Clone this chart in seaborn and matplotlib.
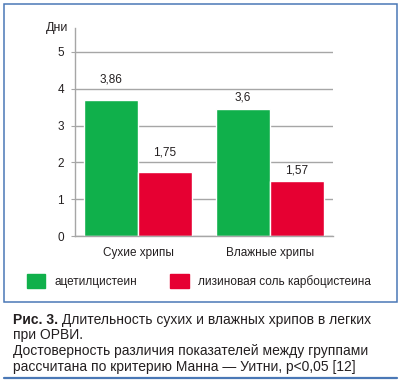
import matplotlib
matplotlib.use("Agg")
import matplotlib.pyplot as plt
import matplotlib.patches as mpatches
import matplotlib.lines as mlines
import pandas as pd
import seaborn as sns

# data
groups = ["Сухие хрипы", "Влажные хрипы"]
drugs = ["ацетилцистеин", "лизиновая соль карбоцистеина"]
heights_acc = [3.70, 3.45]      # bar heights as drawn
heights_lys = [1.74, 1.49]
labels_acc = ["3,86", "3,6"]    # printed values
labels_lys = ["1,75", "1,57"]
yticks = [0, 1, 2, 3, 4, 5]

GREEN = "#10b04b"
RED = "#e60032"
FRAME = "#4a78b6"
TXT = "#231f20"
GRID = "#a6a6a6"

sns.set_style("white")
plt.rcParams["font.family"] = ["Liberation Sans", "DejaVu Sans"]

df = pd.DataFrame({
    "group": groups * 2,
    "drug": [drugs[0]] * 2 + [drugs[1]] * 2,
    "days": heights_acc + heights_lys,
})

fig = plt.figure(figsize=(4.03, 3.81), dpi=100)
ax = fig.add_axes([75 / 403, 1 - 236 / 381, 258 / 403, 208 / 381])

sns.barplot(data=df, x="group", y="days", hue="drug", order=groups, hue_order=drugs,
            palette=[GREEN, RED], width=0.82, gap=0, saturation=1, ax=ax,
            legend=False, errorbar=None)

# value labels sit at uneven heights above the bars in the original
pads = [[10, 4], [10, 3]]
for cont, labs, pp in zip(ax.containers, [labels_acc, labels_lys], pads):
    for bar, lab, p in zip(cont, labs, pp):
        ax.annotate(lab, (bar.get_x() + bar.get_width() / 2, bar.get_height()),
                    xytext=(0, p), textcoords="offset points", ha="center", va="bottom",
                    fontsize=8.5, color=TXT)

ax.set_ylim(0, 5.65)
ax.set_xlim(-0.477, 1.477)
ax.set_yticks(yticks)
ax.set_yticklabels([str(t) for t in yticks])
ax.yaxis.grid(True, color=GRID, lw=1)
ax.set_axisbelow(True)
for s in ["top", "right"]:
    ax.spines[s].set_visible(False)
for s in ["left", "bottom"]:
    ax.spines[s].set_color(GRID)
    ax.spines[s].set_linewidth(1)
ax.tick_params(axis="y", length=3, color=GRID, labelsize=8.5, labelcolor=TXT, pad=5, left=True)
ax.tick_params(axis="x", length=0, labelsize=8.5, labelcolor=TXT, pad=8)
ax.set_xlabel("")
ax.set_ylabel("")
ax.text(-0.025, 1.0, "Дни", transform=ax.transAxes, ha="right", va="center",
        fontsize=9, color=TXT)

# legend
handles = [mpatches.Patch(color=GREEN, label=drugs[0]),
           mpatches.Patch(color=RED, label=drugs[1])]
fig.legend(handles=handles, loc="center left", bbox_to_anchor=(21 / 403, 1 - 281 / 381),
           ncol=2, frameon=False, fontsize=8.5, handlelength=1.55, handleheight=1.45,
           handletextpad=0.8, columnspacing=2.8, borderpad=0, labelcolor=TXT)

# frame around chart and rule under caption
fig.add_artist(mpatches.Rectangle((4 / 403, 1 - 302 / 381), 393 / 403, 298 / 381,
                                  transform=fig.transFigure, fill=False,
                                  edgecolor=FRAME, lw=1.1))
fig.add_artist(mlines.Line2D([4 / 403, 397 / 403], [1 - 378 / 381] * 2,
                             transform=fig.transFigure, color=FRAME, lw=1.6))

# caption
t1 = fig.text(13 / 403, 1 - 320 / 381, "Рис. 3.", fontsize=10, fontweight="bold",
              va="center", color=TXT)
ax.annotate(" Длительность сухих и влажных хрипов в легких", xy=(1, 0.5), xycoords=t1,
            va="center", ha="left", fontsize=10, color=TXT, annotation_clip=False)
fig.text(13 / 403, 1 - 328 / 381,
         "при ОРВИ.\nДостоверность различия показателей между группами\n"
         "рассчитана по критерию Манна — Уитни, p<0,05 [12]",
         fontsize=10, va="top", color=TXT, linespacing=1.17)

fig.savefig("out.png", dpi=100)
